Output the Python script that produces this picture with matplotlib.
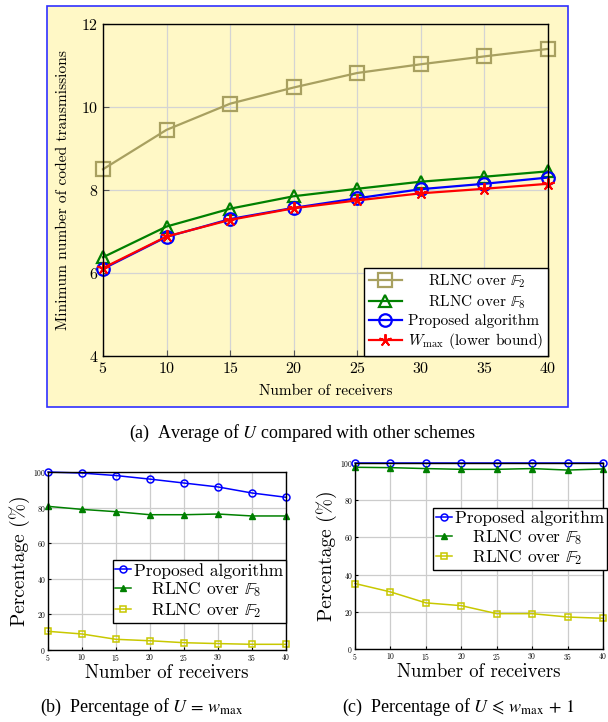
import matplotlib
matplotlib.use('Agg')
import matplotlib.pyplot as plt
import matplotlib.patches as patches

plt.rcParams['font.family'] = 'cmr10'
plt.rcParams['mathtext.fontset'] = 'cm'
plt.rcParams['axes.formatter.use_mathtext'] = True

receivers = [5, 10, 15, 20, 25, 30, 35, 40]

# (a) average number of coded transmissions
avg_f2 = [8.5, 9.45, 10.08, 10.47, 10.82, 11.03, 11.22, 11.4]
avg_f8 = [6.38, 7.12, 7.55, 7.85, 8.03, 8.2, 8.32, 8.45]
avg_prop = [6.1, 6.87, 7.3, 7.57, 7.8, 8.02, 8.15, 8.3]
avg_wmax = [6.12, 6.88, 7.28, 7.56, 7.75, 7.92, 8.03, 8.15]

# (b) percentage of U = w_max
pb_prop = [100, 99.4, 98, 96, 93.8, 91.6, 88.2, 85.8]
pb_f8 = [80.7, 79, 77.7, 76, 76, 76.4, 75.3, 75.3]
pb_f2 = [10.5, 9, 6, 5.2, 4.1, 3.6, 3.2, 3.2]

# (c) percentage of U <= w_max + 1
pc_prop = [100, 100, 100, 100, 100, 100, 100, 100]
pc_f8 = [97.7, 97.5, 97, 96.6, 96.6, 97, 96.2, 96.8]
pc_f2 = [35.2, 30.7, 24.8, 23.3, 19, 19, 17.2, 16.5]

yellow = '#fff8c6'
olive = '#a8a060'

fig = plt.figure(figsize=(6.08, 7.22), dpi=100)

# yellow framed box behind panel (a)
box = patches.Rectangle((47/608, 1-407/722), 521/608, 401/722, transform=fig.transFigure,
                        facecolor=yellow, edgecolor='#3030ff', linewidth=1.2, zorder=-5)
fig.patches.append(box)

# ---- panel (a)
ax = fig.add_axes([103/608, 1-356/722, 445/608, 332/722])
ax.set_facecolor(yellow)
ax.plot(receivers, avg_f2, color=olive, lw=1.6, marker='s', ms=10, mfc='none', mew=1.6,
        label=r'    RLNC over $\mathbb{F}_2$', clip_on=False)
ax.plot(receivers, avg_f8, color='green', lw=1.6, marker='^', ms=9, mfc='none', mew=1.6,
        label=r'    RLNC over $\mathbb{F}_8$', clip_on=False)
ax.plot(receivers, avg_prop, color='blue', lw=1.6, marker='o', ms=9, mfc='none', mew=1.6,
        label='Proposed algorithm', clip_on=False)
ax.plot(receivers, avg_wmax, color='red', lw=1.6, marker=(5, 2, 0), ms=9, mew=1.4,
        label=r'$W_{\max}$ (lower bound)', clip_on=False)
ax.set_xlim(5, 40)
ax.set_ylim(4, 12)
ax.set_xticks(receivers)
ax.set_yticks([4, 6, 8, 10, 12])
ax.grid(True, color='#d4d4d4', lw=0.9)
ax.set_axisbelow(True)
ax.tick_params(direction='in', labelsize=11.5, length=4, color='#555555')
ax.set_xlabel('Number of receivers', fontsize=11, labelpad=6)
ax.set_ylabel('Minimum number of coded transmissions', fontsize=11.2, labelpad=8)
for s in ax.spines.values():
    s.set_linewidth(1.0)
leg = ax.legend(loc='lower right', bbox_to_anchor=(1.0, 0.0), fontsize=11, fancybox=False,
                edgecolor='black', framealpha=1, borderaxespad=0, handlelength=2.2,
                labelspacing=0.2, borderpad=0.3, handletextpad=0.4)
leg.get_frame().set_linewidth(1.0)
leg.set_zorder(5)

fig.text(303/608, 1-433/722, r'(a)  Average of $U$ compared with other schemes',
         ha='center', va='center', fontsize=13, family='Liberation Serif', math_fontfamily='stix')


def percent_panel(rect, prop, f8, f2, leg_anchor):
    a = fig.add_axes(rect)
    a.plot(receivers, prop, color='blue', lw=1.1, marker='o', ms=5, mfc='none', mew=1.1,
           label='Proposed algorithm', clip_on=False)
    a.plot(receivers, f8, color='green', lw=1.1, marker='^', ms=5, mew=1.0,
           label=r'   RLNC over $\mathbb{F}_8$', clip_on=False)
    a.plot(receivers, f2, color='#c8c800', lw=1.1, marker='s', ms=5, mfc='none', mew=1.1,
           label=r'   RLNC over $\mathbb{F}_2$', clip_on=False)
    a.set_xlim(5, 40)
    a.set_ylim(0, 100)
    a.set_xticks(receivers)
    a.set_yticks([0, 20, 40, 60, 80, 100])
    a.grid(True, color='#cccccc', lw=0.9)
    a.set_axisbelow(True)
    a.tick_params(direction='in', labelsize=5.5, length=2, pad=1.5)
    a.set_xlabel('Number of receivers', fontsize=13.5, labelpad=1)
    a.set_ylabel('Percentage (%)', fontsize=14, labelpad=2)
    for s in a.spines.values():
        s.set_linewidth(1.0)
    lg = a.legend(loc='upper right', bbox_to_anchor=leg_anchor, fontsize=12.5, fancybox=False,
                  edgecolor='black', framealpha=1, borderaxespad=0, handlelength=0.9,
                  labelspacing=0.1, borderpad=0.15, handletextpad=0.2)
    lg.get_frame().set_linewidth(1.0)
    lg.set_zorder(5)
    return a


percent_panel([48/608, 1-650/722, 238/608, 178/722], pb_prop, pb_f8, pb_f2, (1.0, 0.505))
percent_panel([355/608, 1-649/722, 248/608, 186/722], pc_prop, pc_f8, pc_f2, (1.015, 0.76))

fig.text(142/608, 1-707/722, r'(b)  Percentage of $U\,=\,w_{\max}$',
         ha='center', va='center', fontsize=13, family='Liberation Serif', math_fontfamily='stix')
fig.text(458/608, 1-707/722, r'(c)  Percentage of $U\,\leqslant\,w_{\max}\,+\,1$',
         ha='center', va='center', fontsize=13, family='Liberation Serif', math_fontfamily='stix')

fig.savefig('out.png', dpi=100)
